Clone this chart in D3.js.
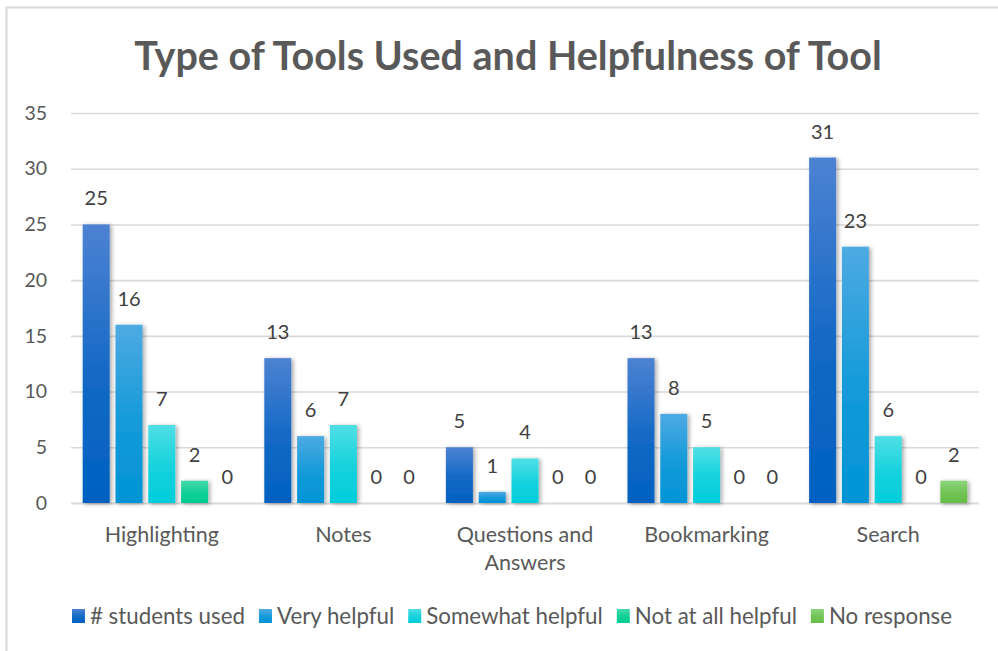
<!DOCTYPE html>
<html>
<head>
<meta charset="utf-8">
<script src="https://cdn.jsdelivr.net/npm/d3@7"></script>
<style>
  html, body { margin: 0; padding: 0; background: #fff; }
  svg { display: block; }
  text { font-family: Lato, "Open Sans", sans-serif; }
</style>
</head>
<body>
<svg id="chart" width="998" height="651"></svg>
<script>
// Tools and how helpful students found them
const categories = ["Highlighting", "Notes", "Questions and Answers", "Bookmarking", "Search"];
const seriesNames = ["# students used", "Very helpful", "Somewhat helpful", "Not at all helpful", "No response"];
const studentsUsed    = [25, 13, 5, 13, 31];
const veryHelpful     = [16, 6, 1, 8, 23];
const somewhatHelpful = [7, 7, 4, 5, 6];
const notAtAllHelpful = [2, 0, 0, 0, 0];
const noResponse      = [0, 0, 0, 0, 2];
const yTicks = [0, 5, 10, 15, 20, 25, 30, 35];
const title = "Type of Tools Used and Helpfulness of Tool";

const seriesValues = [studentsUsed, veryHelpful, somewhatHelpful, notAtAllHelpful, noResponse];
const gradientStops = [
  ["#4d82d2", "#0061c1"],
  ["#4eaae2", "#0094d6"],
  ["#50dfe4", "#00cddb"],
  ["#45d9aa", "#00cc8f"],
  ["#8dd47c", "#66bd47"]
];

const svg = d3.select("#chart");
const W = 998, H = 651;
const plot = { left: 71, right: 979, top: 113, bottom: 503 };

// chart frame
svg.append("rect")
  .attr("x", 6.5).attr("y", 7.5)
  .attr("width", W + 10).attr("height", H + 10)
  .attr("fill", "#fff").attr("stroke", "#d9d9d9").attr("stroke-width", 2);

const defs = svg.append("defs");
gradientStops.forEach((c, i) => {
  const g = defs.append("linearGradient")
    .attr("id", "grad" + i)
    .attr("x1", 0).attr("y1", 0).attr("x2", 0).attr("y2", 1);
  g.append("stop").attr("offset", "0%").attr("stop-color", c[0]);
  g.append("stop").attr("offset", "55%").attr("stop-color", d3.interpolateRgb(c[0], c[1])(0.75));
  g.append("stop").attr("offset", "100%").attr("stop-color", c[1]);
});
const shadow = defs.append("filter").attr("id", "shadow")
  .attr("x", "-30%").attr("y", "-10%").attr("width", "170%").attr("height", "130%");
shadow.append("feDropShadow")
  .attr("dx", 2).attr("dy", 1).attr("stdDeviation", 2.2)
  .attr("flood-color", "#000").attr("flood-opacity", 0.35);

// title
svg.append("text")
  .attr("x", 508).attr("y", 70)
  .attr("text-anchor", "middle")
  .attr("font-size", 39.5).attr("font-weight", 700)
  .attr("fill", "#595959")
  .text(title);

const y = d3.scaleLinear().domain([0, 35]).range([plot.bottom, plot.top]);
const x0 = d3.scaleBand().domain(categories).range([plot.left, plot.right]).padding(0);
const x1 = d3.scaleBand().domain(seriesNames).range([0, x0.bandwidth()])
  .paddingInner(0.177).paddingOuter(0.357);

// gridlines and y labels
const yAxis = d3.axisLeft(y).tickValues(yTicks).tickSize(-(plot.right - plot.left)).tickPadding(24);
const yg = svg.append("g").attr("transform", `translate(${plot.left},0)`).call(yAxis);
yg.select(".domain").remove();
yg.selectAll(".tick line")
  .attr("stroke", "#d9d9d9").attr("stroke-width", 1.6)
  .filter(d => d === 0).attr("stroke-width", 2.2);
yg.selectAll(".tick text")
  .attr("fill", "#595959").attr("font-size", 19.5)
  .attr("font-family", "Lato, 'Open Sans', sans-serif");

// bars
const groups = svg.append("g").selectAll("g")
  .data(categories).join("g")
  .attr("transform", d => `translate(${x0(d)},0)`);

const cells = groups.selectAll("g.cell")
  .data((c, ci) => seriesNames.map((s, si) => ({ s, si, v: seriesValues[si][ci] })))
  .join("g").attr("class", "cell");

cells.filter(d => d.v > 0).append("rect")
  .attr("x", d => x1(d.s))
  .attr("y", d => y(d.v))
  .attr("width", x1.bandwidth())
  .attr("height", d => y(0) - y(d.v))
  .attr("fill", d => `url(#grad${d.si})`)
  .attr("filter", "url(#shadow)");

cells.append("text")
  .attr("x", d => x1(d.s) + x1.bandwidth() / 2)
  .attr("y", d => y(d.v) - 19)
  .attr("text-anchor", "middle")
  .attr("font-size", 20).attr("fill", "#404040")
  .text(d => d.v);

// category labels (wrapped to two lines when long)
function splitLabel(s) {
  const words = s.split(" ");
  return [words.slice(0, -1).join(" "), words[words.length - 1]];
}
const xAxis = d3.axisBottom(x0).tickSize(0).tickPadding(0);
const xg = svg.append("g").attr("transform", `translate(0,${plot.bottom})`).call(xAxis);
xg.select(".domain").remove();
xg.selectAll(".tick text").remove();
xg.selectAll(".tick").each(function (d) {
  const t = d3.select(this).append("text")
    .attr("text-anchor", "middle").attr("fill", "#595959")
    .attr("font-size", 21.5)
    .attr("font-family", "Lato, 'Open Sans', sans-serif");
  const lines = d.length > 16 ? splitLabel(d) : [d];
  lines.forEach((ln, i) => t.append("tspan").attr("x", 0).attr("y", 39 + i * 28).text(ln));
});

// legend
const legend = svg.append("g");
let lx = 0;
seriesNames.forEach((name, i) => {
  const g = legend.append("g");
  g.append("rect").attr("x", 0).attr("y", 609).attr("width", 13).attr("height", 14)
    .attr("fill", `url(#grad${i})`);
  const t = g.append("text").attr("x", 18).attr("y", 624)
    .attr("font-size", 22.3).attr("fill", "#595959").text(name);
  const w = 18 + t.node().getComputedTextLength();
  g.attr("transform", `translate(${lx},0)`);
  lx += w + 14;
});
const totalW = lx - 14;
legend.attr("transform", `translate(${512 - totalW / 2},0)`);
</script>
</body>
</html>
